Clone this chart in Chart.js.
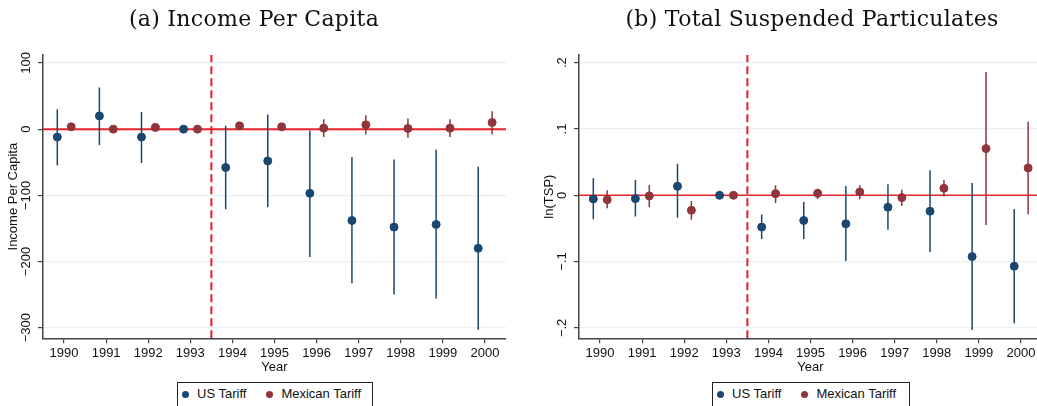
<!DOCTYPE html>
<html>
<head>
<meta charset="utf-8">
<script src="https://cdn.jsdelivr.net/npm/chart.js@4"></script>
<style>
body { margin: 0; background: #fff; }
#wrap { position: relative; width: 1037px; height: 406px; overflow: hidden; }
canvas { position: absolute; top: 0; }
.title { position: absolute; top: 4px; font-family: 'DejaVu Serif', serif; font-size: 22px; line-height: 30px;
  white-space: nowrap; transform: translateX(-50%); color: #111; letter-spacing: 0.3px; }
.legend { position: absolute; top: 382px; height: 30px; border: 1px solid #222; box-sizing: border-box;
  display: flex; align-items: flex-start; padding: 0 0 0 4px; background: #fff;
  font-family: 'Liberation Sans', Arial, sans-serif; font-size: 13px; line-height: 22px; color: #111; }
.item { display: flex; align-items: center; }
.item + .item { margin-left: 20px; }
.dot { width: 7px; height: 7px; border-radius: 50%; margin-right: 8px; }
</style>
</head>
<body>
<div id="wrap">
  <canvas id="incomeChart" width="520" height="375" style="left:0"></canvas>
  <canvas id="tspChart" width="520" height="375" style="left:536px"></canvas>
  <div class="title" style="left:254px">(a) Income Per Capita</div>
  <div class="title" style="left:812px">(b) Total Suspended Particulates</div>
  <div class="legend" style="left:177px; width:196px">
    <div class="item"><span class="dot" style="background:#1a476f"></span>US Tariff</div>
    <div class="item"><span class="dot" style="background:#90353b"></span>Mexican Tariff</div>
  </div>
  <div class="legend" style="left:712px; width:198px">
    <div class="item"><span class="dot" style="background:#1a476f"></span>US Tariff</div>
    <div class="item"><span class="dot" style="background:#90353b"></span>Mexican Tariff</div>
  </div>
</div>
<script>
const years = [1990, 1991, 1992, 1993, 1994, 1995, 1996, 1997, 1998, 1999, 2000];

// (a) income per capita
const usIncome   = [-12, 20, -12, 0, -58, -48, -97, -138, -148, -144, -180];
const usIncomeLo = [-55, -24, -51, null, -121, -118, -193, -233, -250, -256, -303];
const usIncomeHi = [30, 63, 26, null, 5, 22, -2, -42, -46, -31, -57];
const mxIncome   = [3.5, 0, 2.5, 0, 5, 3.5, 1.5, 6.5, 1, 1.5, 10];
const mxIncomeLo = [-1, -4, -2, null, 0, -1, -12, -8, -13, -12, -8];
const mxIncomeHi = [8, 4, 7, null, 10, 8, 15, 21, 16, 15, 27];
const incomeTicks  = [-300, -200, -100, 0, 100];
const incomeLabels = ['\u2212300', '\u2212200', '\u2212100', '0', '100'];

// (b) ln(TSP)
const usTsp   = [-0.0055, -0.005, 0.0136, 0, -0.048, -0.038, -0.043, -0.018, -0.024, -0.0925, -0.107];
const usTspLo = [-0.036, -0.032, -0.034, null, -0.066, -0.066, -0.099, -0.052, -0.0855, -0.203, -0.193];
const usTspHi = [0.0256, 0.023, 0.0477, null, -0.029, -0.010, 0.014, 0.0166, 0.0377, 0.0186, -0.0207];
const mxTsp   = [-0.0066, -0.001, -0.0226, 0, 0.0025, 0.003, 0.005, -0.0035, 0.0105, 0.0704, 0.0412];
const mxTspLo = [-0.0196, -0.018, -0.037, null, -0.0116, -0.0055, -0.006, -0.016, -0.002, -0.0448, -0.0287];
const mxTspHi = [0.0075, 0.0156, -0.0086, null, 0.015, 0.010, 0.015, 0.0085, 0.023, 0.186, 0.111];
const tspTicks  = [-0.2, -0.1, 0, 0.1, 0.2];
const tspLabels = ['\u2212.2', '\u2212.1', '0', '.1', '.2'];

const navy = '#1a476f';
const maroon = '#90353b';
const usOffset = -0.16;
const mxOffset = 0.17;
const font = '"Liberation Sans", Arial, sans-serif';

function dots(vals, off) {
    return years.map((yr, i) => ({ x: yr + off, y: vals[i] }));
}

function whiskers(lo, hi, off) {
    const out = [];
    years.forEach((yr, i) => {
        if (lo[i] === null) return;
        out.push({ x: yr + off, y: lo[i] }, { x: yr + off, y: hi[i] }, { x: yr + off, y: null });
    });
    return out;
}

// y tick labels and title are rotated in Stata style, so draw them here
const yText = {
    id: 'yText',
    afterDraw(chart, args, o) {
        const s = chart.scales.y;
        const ctx = chart.ctx;
        ctx.save();
        ctx.fillStyle = '#111';
        ctx.font = '13px ' + font;
        ctx.textAlign = 'center';
        ctx.textBaseline = 'middle';
        o.ticks.forEach((v, i) => {
            ctx.save();
            ctx.translate(s.right - 16.5, s.getPixelForValue(v));
            ctx.rotate(-Math.PI / 2);
            ctx.fillText(o.labels[i], 0, 0);
            ctx.restore();
        });
        ctx.translate(s.right - 30, (chart.chartArea.top + chart.chartArea.bottom) / 2);
        ctx.rotate(-Math.PI / 2);
        ctx.fillText(o.title, 0, 0);
        ctx.restore();
    }
};

function drawPanel(id, c) {
    const ctx = document.getElementById(id).getContext('2d');
    new Chart(ctx, {
        type: 'scatter',
        data: {
            datasets: [
                { data: dots(c.us, usOffset), backgroundColor: navy, borderColor: navy, pointRadius: 4, order: 0 },
                { data: dots(c.mx, mxOffset), backgroundColor: maroon, borderColor: maroon, pointRadius: 4, order: 0 },
                { data: whiskers(c.usLo, c.usHi, usOffset), showLine: true, spanGaps: false, borderColor: navy, borderWidth: 1.5, pointRadius: 0, order: 1 },
                { data: whiskers(c.mxLo, c.mxHi, mxOffset), showLine: true, spanGaps: false, borderColor: maroon, borderWidth: 1.5, pointRadius: 0, order: 1 },
                { data: [{ x: 1989.5, y: 0 }, { x: 2000.5, y: 0 }], showLine: true, borderColor: '#e5232a', borderWidth: c.zeroWidth, pointRadius: 0, order: 2 },
                { data: [{ x: 1993.5, y: c.min }, { x: 1993.5, y: c.max }], showLine: true, borderColor: '#ec1c24', borderWidth: 2, borderDash: [8, 4], pointRadius: 0, order: 2 }
            ]
        },
        options: {
            responsive: false,
            animation: false,
            layout: { padding: { top: 55, right: 14, left: 0, bottom: 0 } },
            plugins: {
                legend: { display: false },
                tooltip: { enabled: false },
                yText: { ticks: c.ticks, labels: c.labels, title: c.title }
            },
            scales: {
                x: {
                    type: 'linear',
                    min: 1989.5,
                    max: 2000.5,
                    afterBuildTicks: s => { s.ticks = years.map(v => ({ value: v })); },
                    afterFit: s => { s.height = 36.7; },
                    ticks: { callback: v => String(v), font: { family: font, size: 13 }, color: '#111', padding: 2, maxRotation: 0, autoSkip: false },
                    grid: { drawOnChartArea: false, tickLength: 5, tickColor: '#444', lineWidth: 1.2 },
                    border: { display: true, color: '#444', width: 1.5 },
                    title: { display: true, text: 'Year', font: { family: font, size: 13 }, color: '#111', padding: 0 }
                },
                y: {
                    min: c.min,
                    max: c.max,
                    afterBuildTicks: s => { s.ticks = c.ticks.map(v => ({ value: v })); },
                    afterFit: s => { s.width = 43; },
                    ticks: { display: false },
                    grid: { color: '#e9f0f2', lineWidth: 1.2, tickLength: 5, tickColor: '#444' },
                    border: { display: true, color: '#444', width: 1.5 }
                }
            }
        },
        plugins: [yText]
    });
}

drawPanel('incomeChart', {
    us: usIncome, usLo: usIncomeLo, usHi: usIncomeHi,
    mx: mxIncome, mxLo: mxIncomeLo, mxHi: mxIncomeHi,
    min: -316, max: 112, ticks: incomeTicks, labels: incomeLabels,
    title: 'Income Per Capita', zeroWidth: 2
});

drawPanel('tspChart', {
    us: usTsp, usLo: usTspLo, usHi: usTspHi,
    mx: mxTsp, mxLo: mxTspLo, mxHi: mxTspHi,
    min: -0.2157, max: 0.2116, ticks: tspTicks, labels: tspLabels,
    title: 'ln(TSP)', zeroWidth: 1.4
});
</script>
</body>
</html>
